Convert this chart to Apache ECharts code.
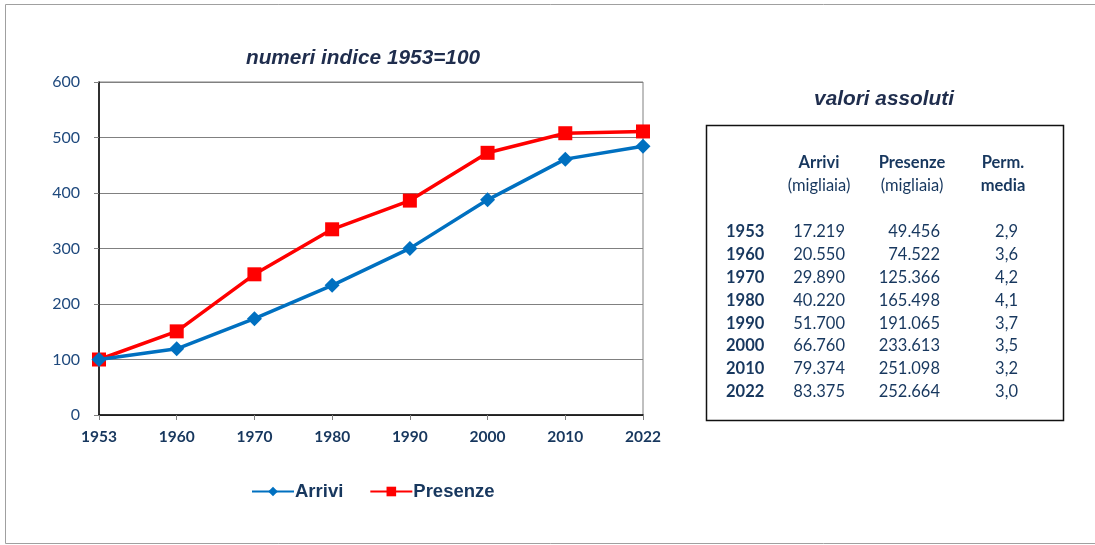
<!DOCTYPE html>
<html>
<head>
<meta charset="utf-8">
<script src="https://cdn.jsdelivr.net/npm/echarts@6/dist/echarts.min.js"></script>
<style>html,body{margin:0;padding:0;background:#fff;}#c{width:1095px;height:545px;}</style>
</head>
<body>
<div id="c"></div>
<script>
// ---- data ----
const years = ['1953', '1960', '1970', '1980', '1990', '2000', '2010', '2022'];
const arriviIndex = [100, 119.3, 173.6, 233.6, 300.2, 387.7, 461.0, 484.2];
const presenzeIndex = [100, 150.7, 253.5, 334.6, 386.3, 472.4, 507.7, 510.9];
const yTicks = [0, 100, 200, 300, 400, 500, 600];
const arriviAbs = [17219, 20550, 29890, 40220, 51700, 66760, 79374, 83375];
const presenzeAbs = [49456, 74522, 125366, 165498, 191065, 233613, 251098, 252664];
const permMedia = [2.9, 3.6, 4.2, 4.1, 3.7, 3.5, 3.2, 3.0];
const chartTitle = 'numeri indice 1953=100';
const tableTitle = 'valori assoluti';
const seriesNames = ['Arrivi', 'Presenze'];
const colHeads = [['Arrivi', '(migliaia)'], ['Presenze', '(migliaia)'], ['Perm.', 'media']];

// ---- helpers ----
function fmtInt(n) { return String(n).replace(/\B(?=(\d{3})+(?!\d))/g, '.'); }
function fmtDec(n) { return n.toFixed(1).replace('.', ','); }

const navy = '#17375E';
const tFont = 'Lato, "Open Sans", sans-serif';
const tSize = '16.5px ';
const graphics = [];
// outer frame
graphics.push({ type: 'rect', shape: { x: 5.5, y: 4.5, width: 1200, height: 539 }, style: { fill: 'none', stroke: '#a0a0a0', lineWidth: 1 } });
// titles
graphics.push({ type: 'text', x: 363, y: 58, style: { text: chartTitle, font: 'italic bold 20.8px "Liberation Sans", Arial, sans-serif', fill: '#1F2D4D', textAlign: 'center', textVerticalAlign: 'middle' } });
graphics.push({ type: 'text', x: 884, y: 99, style: { text: tableTitle, font: 'italic bold 20.8px "Liberation Sans", Arial, sans-serif', fill: '#1F2D4D', textAlign: 'center', textVerticalAlign: 'middle' } });
// table box
graphics.push({ type: 'rect', shape: { x: 706.5, y: 125.5, width: 357, height: 295 }, style: { fill: 'none', stroke: '#111', lineWidth: 1.5 } });
const headX = [819, 912, 1003];
colHeads.forEach((h, i) => {
  graphics.push({ type: 'text', x: headX[i], y: 163, style: { text: h[0], font: 'bold ' + tSize + tFont, fill: navy, textAlign: 'center', textVerticalAlign: 'middle' } });
  graphics.push({ type: 'text', x: headX[i], y: 186, style: { text: h[1], font: (i === 2 ? 'bold ' : '') + tSize + tFont, fill: navy, textAlign: 'center', textVerticalAlign: 'middle' } });
});
const rowY0 = 232, rowStep = 22.8;
years.forEach((yr, i) => {
  const y = rowY0 + i * rowStep;
  graphics.push({ type: 'text', x: 726, y: y, style: { text: yr, font: 'bold ' + tSize + tFont, fill: navy, textAlign: 'left', textVerticalAlign: 'middle' } });
  graphics.push({ type: 'text', x: 845, y: y, style: { text: fmtInt(arriviAbs[i]), font: tSize + tFont, fill: navy, textAlign: 'right', textVerticalAlign: 'middle' } });
  graphics.push({ type: 'text', x: 940, y: y, style: { text: fmtInt(presenzeAbs[i]), font: tSize + tFont, fill: navy, textAlign: 'right', textVerticalAlign: 'middle' } });
  graphics.push({ type: 'text', x: 1018, y: y, style: { text: fmtDec(permMedia[i]), font: tSize + tFont, fill: navy, textAlign: 'right', textVerticalAlign: 'middle' } });
});

const chart = echarts.init(document.getElementById('c'), null, { renderer: 'canvas' });
chart.setOption({
  animation: false,
  backgroundColor: '#fff',
  grid: { left: 99, right: 452, top: 82, bottom: 130, show: true, borderColor: '#808080', borderWidth: 1 },
  xAxis: {
    type: 'category', data: years, boundaryGap: false,
    axisLine: { lineStyle: { color: '#000', width: 1.5 } },
    axisTick: { show: true, inside: false, length: 5, lineStyle: { color: '#808080' } },
    axisLabel: { color: navy, fontWeight: 'bold', fontSize: 15.5, margin: 14, fontFamily: tFont }
  },
  yAxis: {
    type: 'value', min: yTicks[0], max: yTicks[yTicks.length - 1], interval: 100,
    axisLine: { show: true, lineStyle: { color: '#000', width: 1.5 } },
    axisTick: { show: true, length: 5, lineStyle: { color: '#808080' } },
    splitLine: { lineStyle: { color: '#808080', width: 1 } },
    axisLabel: { color: '#1F497D', fontSize: 16, margin: 19, fontFamily: tFont }
  },
  legend: {
    data: seriesNames, left: 246, top: 477, itemWidth: 42, itemHeight: 12, itemGap: 26,
    textStyle: { color: navy, fontWeight: 'bold', fontSize: 18.5, fontFamily: '"Liberation Sans", Arial, sans-serif', padding: [0, 0, 0, -4] }
  },
  series: [
    { name: seriesNames[0], type: 'line', data: arriviIndex, symbol: 'diamond', symbolSize: 15, color: '#0070C0', lineStyle: { width: 3.5, color: '#0070C0' }, itemStyle: { color: '#0070C0' }, z: 3 },
    { name: seriesNames[1], type: 'line', data: presenzeIndex, symbol: 'rect', symbolSize: 14, color: '#FF0000', lineStyle: { width: 3.5, color: '#FF0000' }, itemStyle: { color: '#FF0000' }, z: 2 }
  ],
  graphic: graphics
});
</script>
</body>
</html>
